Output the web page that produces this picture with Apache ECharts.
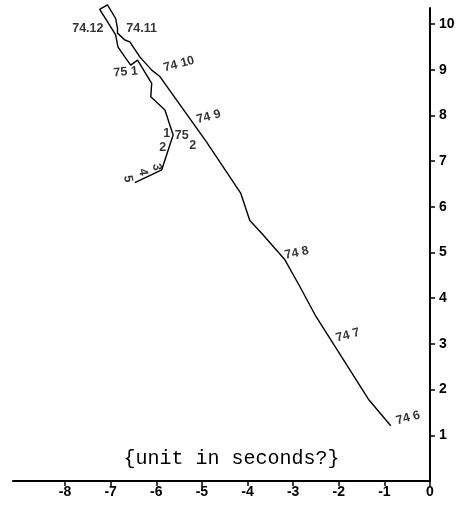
<!DOCTYPE html>
<html>
<head>
<meta charset="utf-8">
<script src="https://cdn.jsdelivr.net/npm/echarts@6/dist/echarts.min.js"></script>
<style>html,body{margin:0;padding:0;background:#fff}#c{width:463px;height:508px}</style>
</head>
<body>
<div id="c"></div>
<script>
// Path of the pole (x, y) in seconds, from 1974.6 to 1975.5
const pathX = [-0.86,-1.35,-2.50,-2.85,-3.18,-3.69,-3.95,-4.15,-4.90,-5.92,-6.10,-6.36,-6.58,-6.69,-6.85,-6.85,-6.89,-7.07,-7.24,-7.05,-6.89,-6.84,-6.69,-6.56,-6.41,-6.10,-6.12,-5.81,-5.63,-5.88,-6.47];
const pathY = [1.21,1.79,3.60,4.25,4.84,5.42,5.70,6.30,7.42,8.85,8.99,9.28,9.61,9.65,9.80,9.91,10.12,10.42,10.32,10.02,9.76,9.50,9.28,9.10,9.21,8.70,8.41,8.12,7.57,6.81,6.53];

// Date labels along the path
const labelText = ["74 6","74 7","74 8","74 9","74 10","74.11","74.12","75 1","1","75","2","2","3","4","5"];
const labelX = [-0.48,-1.80,-2.92,-4.85,-5.50,-6.32,-7.50,-6.67,-5.77,-5.44,-5.20,-5.86,-5.99,-6.29,-6.62];
const labelY = [1.38,3.19,4.99,7.97,9.12,9.89,9.91,8.95,7.61,7.57,7.35,7.29,6.87,6.76,6.61];
const labelAngle = [15,15,12,15,15,0,0,5,0,0,0,0,-80,-80,-80];

const xTicks = [-8,-7,-6,-5,-4,-3,-2,-1,0];
const yTicks = [1,2,3,4,5,6,7,8,9,10];
const note = "{unit in seconds?}";

const chart = echarts.init(document.getElementById('c'));
const tickFont = {color:'#000', fontSize:14, fontWeight:'bold', fontFamily:'Liberation Sans'};
chart.setOption({
  animation:false,
  backgroundColor:'#fff',
  grid:{left:13, right:33, top:8, bottom:27, containLabel:false},
  xAxis:{
    type:'value', min:-9.14, max:0,
    axisLine:{show:true, onZero:false, lineStyle:{color:'#000', width:2}},
    axisTick:{show:true, inside:false, length:5, lineStyle:{color:'#000', width:1.5}, customValues:xTicks},
    axisLabel:Object.assign({margin:4, customValues:xTicks}, tickFont),
    splitLine:{show:false}
  },
  yAxis:{
    type:'value', position:'right', min:0, max:10.35,
    axisLine:{show:true, onZero:false, lineStyle:{color:'#000', width:2}},
    axisTick:{show:true, inside:false, length:5, lineStyle:{color:'#000', width:1.5}, customValues:yTicks},
    axisLabel:Object.assign({margin:9, customValues:yTicks}, tickFont),
    splitLine:{show:false}
  },
  graphic:[{
    type:'text', left:'center', top:449, x:-12,
    style:{text:note, font:'20px "Liberation Mono"', fill:'#000'}
  }],
  series:[
    {
      type:'line', clip:false, symbol:'none', smooth:false,
      lineStyle:{color:'#000', width:1.4},
      data:pathX.map((x,i)=>[x, pathY[i]])
    },
    {
      type:'scatter', symbolSize:0, clip:false,
      label:{show:true, position:'inside', formatter:'{b}', color:'#000', fontSize:12.5, fontWeight:'bold', fontFamily:'Liberation Sans', align:'center', verticalAlign:'middle'},
      data:labelText.map((t,i)=>({name:t, value:[labelX[i], labelY[i]], label:{rotate:labelAngle[i]}}))
    }
  ]
});
</script>
</body>
</html>
